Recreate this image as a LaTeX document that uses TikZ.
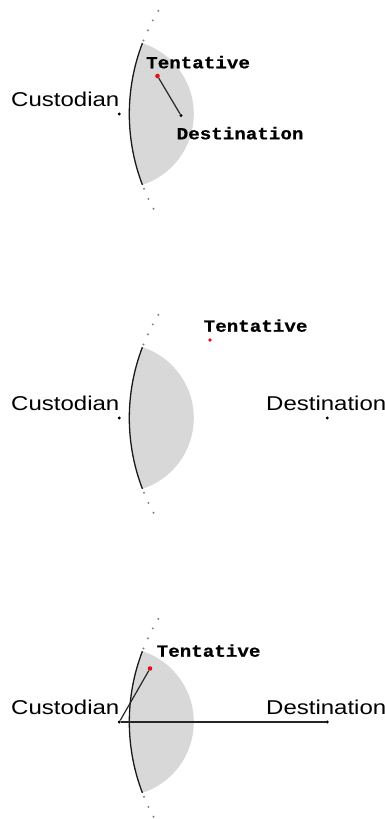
\documentclass[tikz,border=0pt]{standalone}
\usepackage{fontspec}
\setmainfont{Liberation Sans}
\setmonofont{Liberation Mono}[BoldFeatures={FakeBold=0.6}]
\usepackage{graphicx}
\definecolor{lensgrey}{RGB}{216,216,216}
\definecolor{tred}{RGB}{228,18,24}
\definecolor{dotgrey}{RGB}{130,130,130}
\begin{document}
\begin{tikzpicture}[x=1pt,y=-1pt,
  dot/.style={circle,fill=black,inner sep=0pt,minimum size=3.2pt},
  tdot/.style={circle,fill=tred,inner sep=0pt,minimum size=4.6pt},
  sanslab/.style={inner sep=0pt,font=\fontsize{20}{20}\selectfont},
  monolab/.style={inner sep=0pt,font=\fontsize{17}{17}\selectfont\ttfamily\bfseries},
  link/.style={line width=1.2pt,draw=black!85},
  boundary/.style={line width=1.3pt,draw=black!90},
]
\useasboundingbox (0,0) rectangle (385,819);
\foreach \c/\n in {114/1,418/2,722/3}{
  \begin{scope}
    \clip (327.3,\c) circle[radius=198];
    \fill[lensgrey] (119.3,\c) circle[radius=74.5];
  \end{scope}
  \draw[boundary] (327.3,\c) ++(159.05:198) arc[start angle=159.05,end angle=200.95,radius=198];
  \foreach \a in {21.8,25,28.2,31.4}
    \fill[dotgrey] (327.3,\c) ++(180+\a:198) circle[radius=1.1];
  \foreach \a in {22.2,25.4,28.6}
    \fill[dotgrey] (327.3,\c) ++(180-\a:198) circle[radius=1.1];
  \node[dot] (cust\n) at (119.3,\c) {};
  \node[sanslab,anchor=base east] (custlab\n) at (119.5,{\c-8}) {\scalebox{1.2}[1]{Custodian}};
}
% panel 1
\node[tdot] (tent1) at (157.5,76) {};
\node[dot] (dest1) at (181,115.5) {};
\draw[link] (tent1) -- (dest1);
\node[monolab,anchor=base west] (tentlab1) at (146,68.3) {\scalebox{1.13}[1]{Tentative}};
\node[monolab,anchor=base west] (destlab1) at (176.5,139.3) {\scalebox{1.13}[1]{Destination}};
% panel 2
\node[tdot,minimum size=3.6pt] (tent2) at (210,340) {};
\node[dot] (dest2) at (327.3,418) {};
\node[monolab,anchor=base west] (tentlab2) at (203.5,331.7) {\scalebox{1.13}[1]{Tentative}};
\node[sanslab,anchor=base west] (destlab2) at (266,410) {\scalebox{1.2}[1]{Destination}};
% panel 3
\node[tdot] (tent3) at (150,668.5) {};
\node[dot] (dest3) at (327.3,722) {};
\draw[link] (cust3) -- (tent3);
\draw[link] (cust3) -- (dest3);
\node[monolab,anchor=base west] (tentlab3) at (156.5,656.7) {\scalebox{1.13}[1]{Tentative}};
\node[sanslab,anchor=base west] (destlab3) at (266,714) {\scalebox{1.2}[1]{Destination}};
\end{tikzpicture}
\end{document}
